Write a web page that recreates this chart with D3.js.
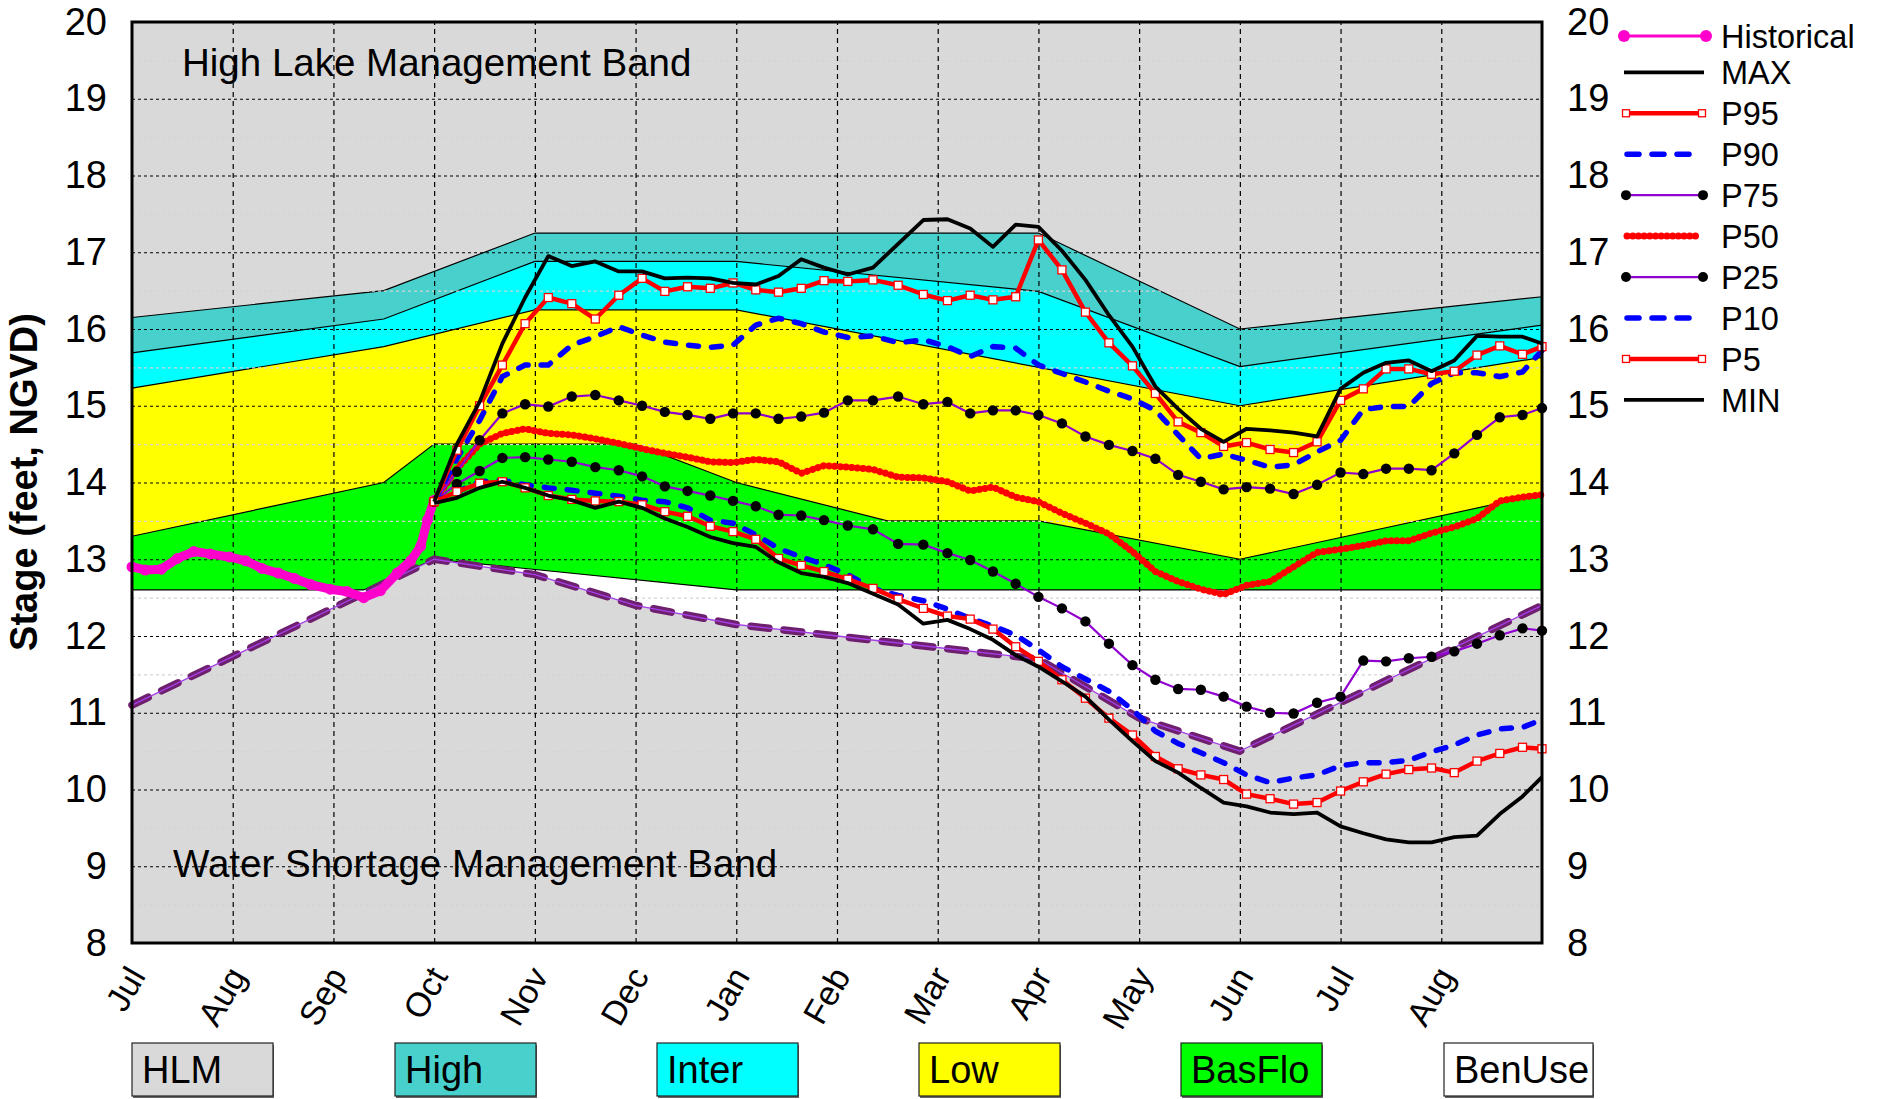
<!DOCTYPE html>
<html>
<head>
<meta charset="utf-8">
<script src="https://cdn.jsdelivr.net/npm/d3@7"></script>
<style>
  body { margin: 0; background: #fff; }
  text { font-family: "Liberation Sans", Arial, sans-serif; }
</style>
</head>
<body>
<svg id="chart" width="1877" height="1099"></svg>
<script>
// month tick labels, Jul of year 1 to Aug of year 2
const months = ['Jul', 'Aug', 'Sep', 'Oct', 'Nov', 'Dec', 'Jan', 'Feb', 'Mar', 'Apr', 'May', 'Jun', 'Jul', 'Aug'];

// position runs: days after Oct 1 (weekly, last one is Sep 1)
const runDays = [0, 7, 14, 21, 28, 35, 42, 49, 56, 63, 70, 77, 84, 91, 98, 105, 112, 119, 126, 133, 140, 147,
  154, 161, 168, 175, 182, 189, 196, 203, 210, 217, 224, 231, 238, 245, 252, 259, 266, 273, 280, 287, 294,
  301, 308, 315, 322, 329, 335];

const MAX = [13.75, 14.5, 15.05, 15.81, 16.41, 16.95, 16.82, 16.88, 16.75, 16.75, 16.66, 16.67, 16.66, 16.6,
  16.58, 16.69, 16.91, 16.8, 16.71, 16.8, 17.11, 17.42, 17.43, 17.31, 17.07, 17.36, 17.33, 17.02, 16.64, 16.18,
  15.77, 15.25, 14.96, 14.7, 14.53, 14.7, 14.68, 14.65, 14.6, 15.22, 15.43, 15.56, 15.59, 15.45, 15.59, 15.91,
  15.9, 15.9, 15.81];
const P95 = [13.75, 14.42, 15.0, 15.53, 16.07, 16.41, 16.33, 16.13, 16.44, 16.66, 16.49, 16.55, 16.53, 16.6,
  16.51, 16.48, 16.53, 16.63, 16.62, 16.64, 16.57, 16.45, 16.37, 16.44, 16.38, 16.42, 17.16, 16.77, 16.22, 15.82,
  15.52, 15.16, 14.79, 14.65, 14.47, 14.52, 14.43, 14.39, 14.53, 15.07, 15.22, 15.48, 15.48, 15.41, 15.45, 15.66,
  15.78, 15.67, 15.77];
const P90 = [13.75, 14.31, 14.81, 15.38, 15.53, 15.53, 15.79, 15.9, 16.03, 15.92, 15.83, 15.79, 15.76, 15.79,
  16.05, 16.14, 16.07, 15.96, 15.89, 15.91, 15.82, 15.86, 15.77, 15.64, 15.77, 15.75, 15.53, 15.42, 15.31, 15.19,
  15.09, 14.94, 14.62, 14.31, 14.37, 14.29, 14.2, 14.23, 14.4, 14.55, 14.95, 14.99, 14.99, 15.29, 15.43, 15.43,
  15.38, 15.44, 15.72];
const P75 = [13.75, 14.14, 14.55, 14.9, 15.02, 14.99, 15.12, 15.14, 15.07, 15.0, 14.92, 14.88, 14.83, 14.9,
  14.9, 14.83, 14.86, 14.91, 15.07, 15.07, 15.12, 15.02, 15.05, 14.9, 14.94, 14.94, 14.88, 14.77, 14.6, 14.49,
  14.41, 14.31, 14.1, 14.01, 13.91, 13.94, 13.92, 13.85, 13.97, 14.13, 14.11, 14.18, 14.18, 14.16, 14.38, 14.62,
  14.85, 14.88, 14.97];
const P50 = [13.75, 14.18, 14.5, 14.64, 14.7, 14.64, 14.62, 14.57, 14.51, 14.44, 14.38, 14.33, 14.27, 14.26,
  14.3, 14.27, 14.12, 14.22, 14.2, 14.17, 14.07, 14.06, 14.01, 13.89, 13.94, 13.81, 13.75, 13.6, 13.47, 13.33,
  13.1, 12.84, 12.71, 12.61, 12.54, 12.66, 12.71, 12.9, 13.09, 13.13, 13.18, 13.24, 13.24, 13.34, 13.42, 13.53,
  13.76, 13.81, 13.84];
const P25 = [13.75, 13.98, 14.15, 14.32, 14.33, 14.3, 14.27, 14.2, 14.16, 14.08, 13.95, 13.89, 13.83, 13.76,
  13.69, 13.58, 13.57, 13.51, 13.44, 13.39, 13.2, 13.19, 13.08, 12.99, 12.84, 12.68, 12.51, 12.36, 12.19, 11.9,
  11.62, 11.43, 11.31, 11.3, 11.21, 11.08, 11.0, 10.99, 11.13, 11.21, 11.68, 11.67, 11.71, 11.73, 11.8, 11.9,
  12.01, 12.1, 12.07];
const P10 = [13.75, 13.88, 14.01, 14.03, 13.97, 13.93, 13.9, 13.86, 13.82, 13.77, 13.75, 13.67, 13.51, 13.47,
  13.32, 13.14, 13.03, 12.93, 12.8, 12.62, 12.53, 12.46, 12.35, 12.23, 12.13, 12.01, 11.82, 11.6, 11.44, 11.28,
  11.04, 10.76, 10.6, 10.48, 10.35, 10.19, 10.09, 10.15, 10.19, 10.31, 10.35, 10.35, 10.38, 10.49, 10.58, 10.71,
  10.79, 10.81, 10.91];
const P5 = [13.75, 13.88, 13.99, 14.01, 13.93, 13.83, 13.78, 13.76, 13.75, 13.71, 13.62, 13.56, 13.43, 13.36,
  13.26, 13.01, 12.92, 12.84, 12.74, 12.62, 12.48, 12.36, 12.26, 12.22, 12.09, 11.86, 11.67, 11.43, 11.19, 10.93,
  10.71, 10.43, 10.27, 10.19, 10.13, 9.94, 9.88, 9.81, 9.83, 9.98, 10.1, 10.2, 10.26, 10.28, 10.22, 10.37,
  10.47, 10.55, 10.53];
const MIN = [13.73, 13.8, 13.93, 14.01, 13.93, 13.83, 13.77, 13.67, 13.75, 13.67, 13.53, 13.42, 13.29, 13.21,
  13.16, 12.96, 12.82, 12.77, 12.69, 12.55, 12.41, 12.16, 12.21, 12.09, 11.95, 11.75, 11.6, 11.41, 11.21, 10.91,
  10.63, 10.37, 10.22, 10.02, 9.83, 9.78, 9.7, 9.68, 9.7, 9.52, 9.43, 9.35, 9.31, 9.31, 9.38, 9.4, 9.68, 9.91,
  10.16];

// observed stage before the forecast
const histDates = ['2024-07-01', '2024-07-05', '2024-07-10', '2024-07-15', '2024-07-20', '2024-07-25',
  '2024-07-31', '2024-08-05', '2024-08-10', '2024-08-15', '2024-08-20', '2024-08-25', '2024-08-31',
  '2024-09-05', '2024-09-10', '2024-09-15', '2024-09-20', '2024-09-24', '2024-09-27', '2024-09-29', '2024-10-01'];
const histValues = [12.9, 12.86, 12.87, 13.01, 13.1, 13.07, 13.03, 12.98, 12.88, 12.82, 12.75, 12.67, 12.61,
  12.58, 12.5, 12.59, 12.82, 12.98, 13.17, 13.51, 13.77];

// management band boundaries
const highTop = [['2024-07-01', 16.15], ['2024-09-16', 16.5], ['2024-11-01', 17.25], ['2025-04-01', 17.25],
  ['2025-06-01', 16.0], ['2025-09-01', 16.42]];
const interTop = [['2024-07-01', 15.69], ['2024-09-16', 16.13], ['2024-11-01', 16.88], ['2025-01-01', 16.88],
  ['2025-04-01', 16.49], ['2025-06-01', 15.51], ['2025-09-01', 16.05]];
const lowTop = [['2024-07-01', 15.23], ['2024-09-16', 15.77], ['2024-11-01', 16.25], ['2025-01-01', 16.25],
  ['2025-06-01', 15.0], ['2025-09-01', 15.63]];
const basfloTop = [['2024-07-01', 13.3], ['2024-09-16', 14.0], ['2024-10-01', 14.5], ['2024-12-01', 14.5],
  ['2025-01-01', 14.0], ['2025-02-15', 13.5], ['2025-04-01', 13.5], ['2025-06-01', 13.0], ['2025-09-01', 13.85]];
const basfloBottom = [['2024-07-01', 12.6], ['2024-09-10', 12.6], ['2024-10-01', 13.0], ['2025-01-01', 12.6],
  ['2025-09-01', 12.6]];
const shortageLine = [['2024-07-01', 11.1], ['2024-10-01', 13.0], ['2024-11-01', 12.8], ['2024-12-01', 12.4],
  ['2025-01-01', 12.15], ['2025-02-01', 12.0], ['2025-03-01', 11.85], ['2025-04-01', 11.7],
  ['2025-05-01', 10.93], ['2025-06-01', 10.5], ['2025-09-01', 12.4]];

const bandNames = ['HLM', 'High', 'Inter', 'Low', 'BasFlo', 'BenUse'];
const bandColors = ['#d9d9d9', '#48d1cc', '#00ffff', '#ffff00', '#00ff00', '#ffffff'];

const svg = d3.select('#chart');
const L = 132, R = 1542, T = 22, B = 943;
const FONT = '"Liberation Sans", Arial, sans-serif';

const parse = d3.utcParse('%Y-%m-%d');
const origin = parse('2024-07-01');
// months are drawn equally wide, so place a date by month index + fraction
function mpos(date) {
  const m0 = d3.utcMonth.floor(date);
  const m1 = d3.utcMonth.offset(m0, 1);
  return d3.utcMonth.count(origin, m0) + (date - m0) / (m1 - m0);
}

const x = d3.scaleLinear().domain([0, 14]).range([L, R]);
const y = d3.scaleLinear().domain([8, 20]).range([B, T]);

const runStart = parse('2024-10-01');
const runX = runDays.map(d => x(mpos(d3.utcDay.offset(runStart, d))));
const pts = arr => arr.map(([d, v]) => [x(mpos(parse(d))), y(v)]);
const line = d3.line();

const plot = svg.append('g');

// bands
plot.append('rect').attr('x', L).attr('y', T).attr('width', R - L).attr('height', B - T).attr('fill', bandColors[0]);
const floor = [['2024-07-01', 8], ['2025-09-01', 8]];
function band(top, bottom, color) {
  plot.append('path')
    .attr('d', line(pts(top).concat(pts(bottom).reverse())) + 'Z')
    .attr('fill', color);
}
band(basfloBottom, floor, bandColors[5]);
band(shortageLine, floor, bandColors[0]);
band(highTop, interTop, bandColors[1]);
band(interTop, lowTop, bandColors[2]);
band(lowTop, basfloTop, bandColors[3]);
band(basfloTop, basfloBottom, bandColors[4]);
[highTop, interTop, lowTop, basfloTop, basfloBottom].forEach(b => {
  plot.append('path').attr('d', line(pts(b))).attr('fill', 'none').attr('stroke', '#000').attr('stroke-width', 1.2);
});

// grid
const minorGrid = svg.append('g').attr('transform', `translate(${L},0)`)
  .call(d3.axisLeft(y).tickValues(d3.range(8.5, 20, 1)).tickSize(-(R - L)).tickFormat(''));
minorGrid.select('.domain').remove();
minorGrid.selectAll('line').attr('stroke', '#d4d4d4').attr('stroke-width', 1.3).attr('stroke-dasharray', '3 3');

const hGrid = svg.append('g').attr('transform', `translate(${L},0)`)
  .call(d3.axisLeft(y).tickValues(d3.range(9, 20)).tickSize(-(R - L)).tickFormat(''));
hGrid.select('.domain').remove();
hGrid.selectAll('line').attr('stroke', '#000').attr('stroke-width', 1.2).attr('stroke-dasharray', '3 3');

const vGrid = svg.append('g').attr('transform', `translate(0,${B})`)
  .call(d3.axisBottom(x).tickValues(d3.range(1, 14)).tickSize(-(B - T)).tickFormat(''));
vGrid.select('.domain').remove();
vGrid.selectAll('line').attr('stroke', '#000').attr('stroke-width', 1.2).attr('stroke-dasharray', '5 4');

// band captions
svg.append('text').attr('x', 182).attr('y', 76).attr('font-size', 38.5).text('High Lake Management Band');
svg.append('text').attr('x', 173).attr('y', 877).attr('font-size', 38.5).text('Water Shortage Management Band');

// water shortage line
const wsm = line(pts(shortageLine));
svg.append('path').attr('d', wsm).attr('fill', 'none').attr('stroke', '#6e1f6e').attr('stroke-width', 7.5)
  .attr('stroke-linecap', 'round').attr('stroke-dasharray', '18 15');
svg.append('path').attr('d', wsm).attr('fill', 'none').attr('stroke', '#a540e8').attr('stroke-width', 1.3);

// series styles
const purple = '#9000d0';
function drawSeries(g, xs, ys, kind) {
  const p = xs.map((xx, i) => [xx, ys[i]]);
  const d = line(p);
  if (kind === 'hist') {
    g.append('path').attr('d', d).attr('fill', 'none').attr('stroke', '#ff00cc').attr('stroke-width', 9)
      .attr('stroke-linejoin', 'round').attr('stroke-linecap', 'round');
    g.selectAll(null).data(p).join('circle').attr('cx', q => q[0]).attr('cy', q => q[1]).attr('r', 5.5).attr('fill', '#ff00cc');
  } else if (kind === 'black') {
    g.append('path').attr('d', d).attr('fill', 'none').attr('stroke', '#000').attr('stroke-width', 3.8).attr('stroke-linejoin', 'round');
  } else if (kind === 'square') {
    g.append('path').attr('d', d).attr('fill', 'none').attr('stroke', '#ff0000').attr('stroke-width', 4.5).attr('stroke-linejoin', 'round');
    g.selectAll(null).data(p).join('rect').attr('x', q => q[0] - 4).attr('y', q => q[1] - 4).attr('width', 8).attr('height', 8)
      .attr('fill', '#fff').attr('stroke', '#ff0000').attr('stroke-width', 1.3);
  } else if (kind === 'dash') {
    g.append('path').attr('d', d).attr('fill', 'none').attr('stroke', '#0000ff').attr('stroke-width', 5.5)
      .attr('stroke-linecap', 'round').attr('stroke-dasharray', '10 13');
  } else if (kind === 'dots') {
    g.append('path').attr('d', d).attr('fill', 'none').attr('stroke', purple).attr('stroke-width', 2.2);
    g.selectAll(null).data(p).join('circle').attr('cx', q => q[0]).attr('cy', q => q[1]).attr('r', 5.2).attr('fill', '#000');
  } else if (kind === 'beads') {
    g.append('path').attr('d', d).attr('fill', 'none').attr('stroke', '#ff0000').attr('stroke-width', 3.5);
    g.append('path').attr('d', d).attr('fill', 'none').attr('stroke', '#ff0000').attr('stroke-width', 7)
      .attr('stroke-linecap', 'round').attr('stroke-dasharray', '0.1 5.6');
  }
}

const lines = svg.append('g');
drawSeries(lines, histDates.map(d => x(mpos(parse(d)))), histValues.map(y), 'hist');
const forecast = [
  [P50, 'beads'], [P25, 'dots'], [P75, 'dots'], [P10, 'dash'], [P90, 'dash'],
  [P5, 'square'], [P95, 'square'], [MIN, 'black'], [MAX, 'black']
];
forecast.forEach(([vals, kind]) => drawSeries(lines, runX, vals.map(y), kind));

// frame
svg.append('rect').attr('x', L).attr('y', T).attr('width', R - L).attr('height', B - T)
  .attr('fill', 'none').attr('stroke', '#000').attr('stroke-width', 3);

// axes
function styleAxis(g) {
  g.attr('font-family', FONT).attr('font-size', 38);
  g.select('.domain').remove();
  g.selectAll('text').attr('fill', '#000');
}
svg.append('g').attr('transform', `translate(${L},0)`)
  .call(d3.axisLeft(y).ticks(12).tickFormat(d3.format('d')).tickSize(0).tickPadding(25)).call(styleAxis);
svg.append('g').attr('transform', `translate(${R},0)`)
  .call(d3.axisRight(y).ticks(12).tickFormat(d3.format('d')).tickSize(0).tickPadding(25)).call(styleAxis);
const xAxis = svg.append('g').attr('transform', `translate(0,${B})`)
  .call(d3.axisBottom(x).tickValues(d3.range(0, 14)).tickFormat(i => months[i]).tickSize(0)).call(styleAxis);
xAxis.attr('font-size', 34);
xAxis.selectAll('text').attr('y', 0).attr('dy', 0).attr('text-anchor', 'end')
  .attr('transform', 'translate(14,33) rotate(-60)');

svg.append('text').attr('transform', 'translate(37,482) rotate(-90)').attr('text-anchor', 'middle')
  .attr('font-size', 38).attr('font-weight', 'bold').text('Stage (feet, NGVD)');

// legend for series
const legendItems = [['Historical', 'hist'], ['MAX', 'black'], ['P95', 'square'], ['P90', 'dash'], ['P75', 'dots'],
  ['P50', 'beads'], ['P25', 'dots'], ['P10', 'dash'], ['P5', 'square'], ['MIN', 'black']];
const lg = svg.append('g');
legendItems.forEach(([name, kind], i) => {
  const yy = i === 0 ? 36 : 72.3 + (i - 1) * 40.95;
  const g = lg.append('g');
  if (kind === 'hist') {
    g.append('line').attr('x1', 1624).attr('x2', 1706).attr('y1', yy).attr('y2', yy).attr('stroke', '#ff00cc').attr('stroke-width', 3);
    [1624, 1706].forEach(cx => g.append('circle').attr('cx', cx).attr('cy', yy).attr('r', 6).attr('fill', '#ff00cc'));
  } else if (kind === 'black') {
    g.append('line').attr('x1', 1624).attr('x2', 1704).attr('y1', yy).attr('y2', yy).attr('stroke', '#000').attr('stroke-width', 3.8);
  } else if (kind === 'square') {
    g.append('line').attr('x1', 1626).attr('x2', 1702).attr('y1', yy).attr('y2', yy).attr('stroke', '#ff0000').attr('stroke-width', 4.5);
    [1626, 1702].forEach(cx => g.append('rect').attr('x', cx - 3.5).attr('y', yy - 3.5).attr('width', 7).attr('height', 7)
      .attr('fill', '#fff').attr('stroke', '#ff0000').attr('stroke-width', 1.3));
  } else if (kind === 'dash') {
    g.append('line').attr('x1', 1627).attr('x2', 1690).attr('y1', yy).attr('y2', yy).attr('stroke', '#0000ff').attr('stroke-width', 5.5)
      .attr('stroke-linecap', 'round').attr('stroke-dasharray', '12 13');
  } else if (kind === 'dots') {
    g.append('line').attr('x1', 1626).attr('x2', 1703).attr('y1', yy).attr('y2', yy).attr('stroke', purple).attr('stroke-width', 2.2);
    [1626, 1703].forEach(cx => g.append('circle').attr('cx', cx).attr('cy', yy).attr('r', 5).attr('fill', '#000'));
  } else if (kind === 'beads') {
    g.append('line').attr('x1', 1627).attr('x2', 1698).attr('y1', yy).attr('y2', yy).attr('stroke', '#ff0000').attr('stroke-width', 3.5);
    g.append('line').attr('x1', 1627).attr('x2', 1698).attr('y1', yy).attr('y2', yy).attr('stroke', '#ff0000').attr('stroke-width', 7)
      .attr('stroke-linecap', 'round').attr('stroke-dasharray', '0.1 5.6');
  }
  g.append('text').attr('x', 1721).attr('y', yy).attr('dy', '0.36em').attr('font-size', 32.5).text(name);
});

// legend for bands
const bandBoxX = [132, 395, 657, 919, 1181, 1444];
const bandBoxW = [141, 141, 141, 141, 141, 149];
bandNames.forEach((name, i) => {
  const g = svg.append('g').attr('transform', `translate(${bandBoxX[i]},1043)`);
  g.append('rect').attr('x', 1).attr('y', 2).attr('width', bandBoxW[i]).attr('height', 53).attr('fill', '#666');
  g.append('rect').attr('width', bandBoxW[i]).attr('height', 53).attr('fill', bandColors[i]).attr('stroke', '#222').attr('stroke-width', 1.2);
  g.append('text').attr('x', 10).attr('y', 40).attr('font-size', 38).text(name);
});
</script>
</body>
</html>
